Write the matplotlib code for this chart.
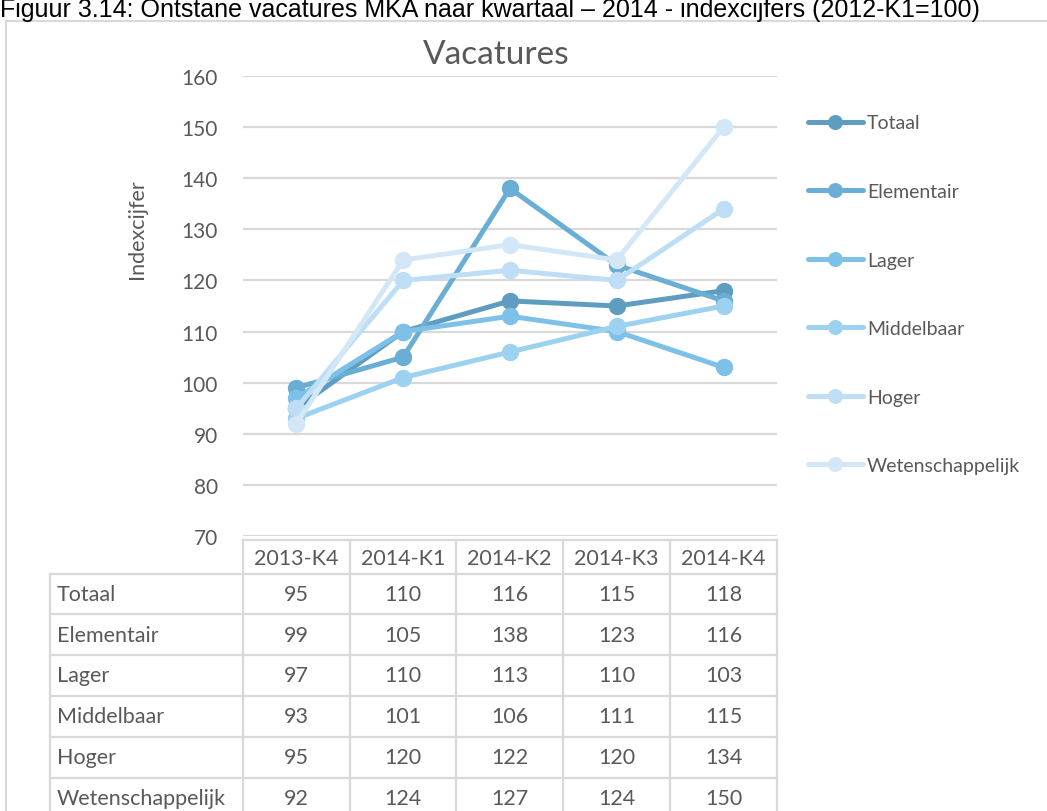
import matplotlib.pyplot as plt
from matplotlib.lines import Line2D
from matplotlib.patches import Rectangle

plt.rcParams['font.family'] = ['Lato', 'DejaVu Sans']

quarters = ['2013-K4', '2014-K1', '2014-K2', '2014-K3', '2014-K4']
series = ['Totaal', 'Elementair', 'Lager', 'Middelbaar', 'Hoger', 'Wetenschappelijk']
totaal = [95, 110, 116, 115, 118]
elementair = [99, 105, 138, 123, 116]
lager = [97, 110, 113, 110, 103]
middelbaar = [93, 101, 106, 111, 115]
hoger = [95, 120, 122, 120, 134]
wetenschappelijk = [92, 124, 127, 124, 150]
values = [totaal, elementair, lager, middelbaar, hoger, wetenschappelijk]
colors = ['#5f9dc0', '#6aaed6', '#7dc1e8', '#9dd1f0', '#bddef4', '#d4e7f7']

W, H = 1047, 812
fig = plt.figure(figsize=(W / 100, H / 100), dpi=100)

def fx(px):
    return px / W

def fy(py):
    return 1 - py / H

grey = '#595959'
border = '#d9d9d9'

# caption above the chart
fig.text(fx(0), fy(17), 'Figuur 3.14: Ontstane vacatures MKA naar kwartaal \u2013 2014 - indexcijfers (2012-K1=100)',
         fontsize=18, family=['Liberation Sans', 'DejaVu Sans'], color='black', va='baseline', ha='left')

# chart frame
fig.add_artist(Rectangle((fx(6), fy(830)), fx(1060), fy(22) - fy(830), transform=fig.transFigure,
                         fill=False, edgecolor=border, lw=1.5))

x0, x1 = 243, 777
ax = fig.add_axes([fx(x0), fy(537), fx(x1 - x0), fy(77) - fy(537)])
ax.set_xlim(-0.5, 4.5)
ax.set_ylim(70, 160)
ax.set_yticks(range(70, 161, 10))
ax.set_xticks([])
for s in ax.spines.values():
    s.set_visible(False)
ax.grid(axis='y', color=border, lw=1.6)
ax.set_axisbelow(True)
ax.tick_params(axis='y', length=0, labelsize=15, labelcolor=grey, pad=18)
ax.set_ylabel('Indexcijfer', fontsize=15.5, color=grey)
ax.yaxis.set_label_coords(-0.18, 0.67)
ax.text(0.475, 1.0 + 22 / 460, 'Vacatures', transform=ax.transAxes, fontsize=24, color=grey,
        ha='center', va='center')

for name, vals, c in zip(series, values, colors):
    ax.plot(range(len(quarters)), vals, color=c, lw=3.6, marker='o', markersize=11.5,
            markerfacecolor=c, markeredgecolor=c, label=name, solid_capstyle='round')

leg = fig.legend(loc='upper left', bbox_to_anchor=(fx(790), fy(98)), frameon=False,
                 fontsize=14, labelspacing=2.65, handlelength=2.85, handletextpad=0.2,
                 labelcolor=grey, markerscale=0.85)

# data table below the chart
col_edges = [243, 350, 456, 563, 670, 777]
row_edges = [575, 615, 656, 697, 738, 779, 820]
left_edge = 50
head_top = 541
lc = border
lw = 1.6

def hline(y, xa, xb):
    fig.add_artist(Line2D([fx(xa), fx(xb)], [fy(y), fy(y)], color=lc, lw=lw, transform=fig.transFigure))

def vline(x, ya, yb):
    fig.add_artist(Line2D([fx(x), fx(x)], [fy(ya), fy(yb)], color=lc, lw=lw, transform=fig.transFigure))

hline(head_top, col_edges[0], col_edges[-1])
for y in row_edges:
    hline(y, left_edge, col_edges[-1])
for x in col_edges:
    vline(x, head_top, row_edges[-1])
vline(left_edge, row_edges[0], row_edges[-1])

fs = 15.5
for j, q in enumerate(quarters):
    cx = (col_edges[j] + col_edges[j + 1]) / 2
    fig.text(fx(cx), fy((head_top + row_edges[0]) / 2 + 1), q, fontsize=fs, color=grey,
             ha='center', va='center')

for i, (name, vals) in enumerate(zip(series, values)):
    cy = (row_edges[i] + row_edges[i + 1]) / 2
    if i == len(series) - 1:
        cy = row_edges[i] + 20
    fig.text(fx(left_edge + 7), fy(cy), name, fontsize=fs, color=grey, ha='left', va='center')
    for j, v in enumerate(vals):
        cx = (col_edges[j] + col_edges[j + 1]) / 2
        fig.text(fx(cx), fy(cy), str(v), fontsize=fs, color=grey, ha='center', va='center')

fig.savefig('out.png', dpi=100)
